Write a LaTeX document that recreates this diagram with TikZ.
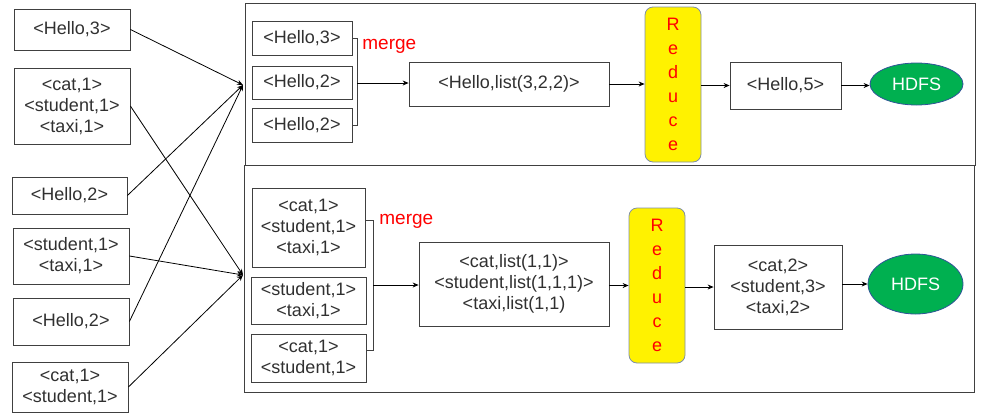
\documentclass[tikz,border=0pt]{standalone}
\usepackage{fontspec}
\setmainfont{Liberation Sans}
\usetikzlibrary{arrows.meta,shapes.geometric,positioning,calc}
\definecolor{boxgray}{HTML}{404040}
\definecolor{txtgray}{HTML}{303030}
\definecolor{reduceedge}{HTML}{7F8FA6}
\definecolor{hdfsgreen}{HTML}{00B050}
\definecolor{hdfsedge}{HTML}{2F5597}

\begin{document}
\begin{tikzpicture}[
    x=1pt, y=-1pt,
    >={Stealth[length=6pt,width=5pt]},
    line width=0.8pt,
    font=\fontsize{18}{21}\selectfont,
    sz/.style 2 args={minimum width=#1pt, minimum height=#2pt},
    kv/.style={draw=boxgray, text=txtgray, align=center, inner sep=0pt},
    frame/.style={draw=boxgray, line width=1pt, inner sep=0pt},
    reducebox/.style={draw=reduceedge, fill=yellow, rounded corners=8pt, text=red,
        align=center, inner sep=0pt, sz={56}{155}, font=\fontsize{18}{24}\selectfont},
    hdfs/.style={ellipse, draw=hdfsedge, fill=hdfsgreen, text=white, inner sep=0pt},
    mergelabel/.style={text=red, font=\fontsize{19}{21}\selectfont, anchor=west, inner sep=0pt}
]
    \useasboundingbox (0,0) rectangle (990,416);

    % Reducer frames
    \node[frame, sz={730}{162}] (top) at (610,84) {};
    \node[frame, sz={730}{227}] (bottom) at (609,278.5) {};
    \coordinate (intop) at (243,85);
    \coordinate (inbot) at (243,275);

    % Map outputs - left column
    \node[kv, sz={116}{41}] (m1) at (72,29.5) {<Hello,3>};
    \node[kv, sz={116}{76}] (m2) at (72,106) {<cat,1>\\<student,1>\\<taxi,1>};
    \node[kv, sz={115}{37}] (m3) at (69.5,195.5) {<Hello,2>};
    \node[kv, sz={116}{56}] (m4) at (71,256) {<student,1>\\<taxi,1>};
    \node[kv, sz={116}{47}] (m5) at (71,321.5) {<Hello,2>};
    \node[kv, sz={116}{50}] (m6) at (70,387) {<cat,1>\\<student,1>};

    % Shuffle to the two reducers
    \path[->]
        (m1.east) edge (intop)
        (m3.east) edge (intop)
        (m5.east) edge (intop)
        (m2.east) edge (inbot)
        (m4.east) edge (inbot)
        (m6.east) edge (inbot);

    % Top reducer
    \node[kv, sz={100}{34}] (a1) at (302,38) {<Hello,3>};
    \node[kv, sz={100}{33}] (a2) at (302,82.5) {<Hello,2>};
    \node[kv, sz={100}{34}] (a3) at (302,125) {<Hello,2>};
    \draw[boxgray] (a1.east) -- ++(5,0) |- (a3.east);
    \coordinate (mg1) at (357,83);
    \node[mergelabel] at (362,46) {merge};
    \node[kv, sz={200}{44}] (a4) at (509,84) {<Hello,list(3,2,2)>};
    \node[reducebox] (r1) at (673,84.5) {R\\e\\d\\u\\c\\e};
    \node[kv, sz={111}{47}] (a5) at (785.5,85.5) {<Hello,5>};
    \node[hdfs, sz={93}{42}] (h1) at (916.5,84) {HDFS};

    \path[->]
        (mg1) edge (mg1 -| a4.west)
        (a4.east) edge (a4.east -| r1.west)
        (r1.east |- a5.west) edge (a5.west)
        (a5.east) edge (a5.east -| h1.west);

    % Bottom reducer
    \node[kv, sz={113}{79}] (b1) at (308.5,227.5) {<cat,1>\\<student,1>\\<taxi,1>};
    \node[kv, sz={115}{47}] (b2) at (308.5,300.5) {<student,1>\\<taxi,1>};
    \node[kv, sz={115}{48}] (b3) at (308.5,358) {<cat,1>\\<student,1>};
    \draw[boxgray] (366,220) -- (373,220) -- (373,350) -- (366,350);
    \coordinate (mg2) at (373,285);
    \node[mergelabel] at (379,221) {merge};
    \node[kv, sz={190}{84}] (b4) at (514,284) {<cat,list(1,1)>\\<student,list(1,1,1)>\\<taxi,list(1,1)};
    \node[reducebox] (r2) at (657,285.5) {R\\e\\d\\u\\c\\e};
    \node[kv, sz={128}{84}] (b5) at (778,287) {<cat,2>\\<student,3>\\<taxi,2>};
    \node[hdfs, sz={95}{60}] (h2) at (915.5,284) {HDFS};

    \path[->]
        (mg2) edge (mg2 -| b4.west)
        (b4.east |- r2.west) edge (r2.west)
        (r2.east |- b5.west) edge (b5.west)
        (b5.east |- h2.west) edge (h2.west);

\end{tikzpicture}
\end{document}
